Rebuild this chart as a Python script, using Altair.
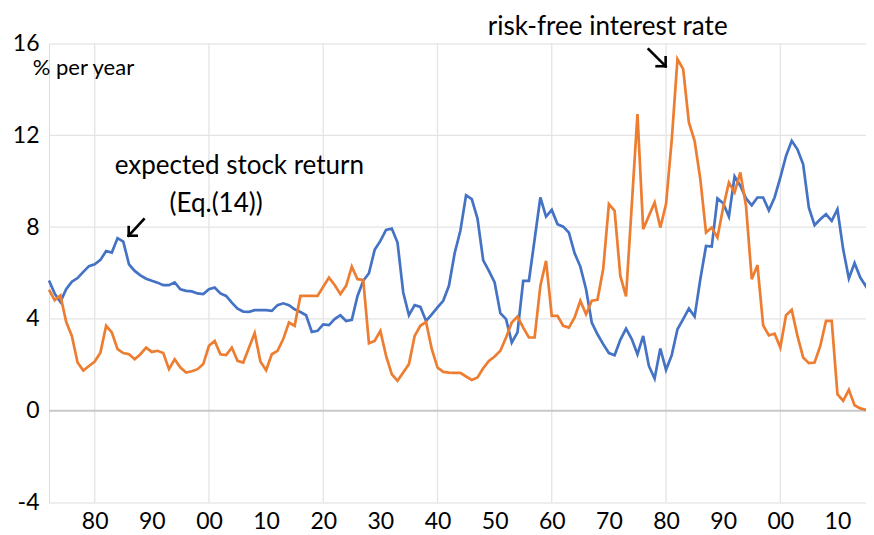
import altair as alt
import pandas as pd

years = list(range(1872, 2017))

expected_return = [
    5.67, 5.10, 4.74, 5.29, 5.62, 5.78, 6.05, 6.30,               # 1872-1879
    6.38, 6.57, 6.96, 6.89, 7.52, 7.37, 6.38, 6.09, 5.90, 5.75,   # 1880s
    5.66, 5.58, 5.47, 5.47, 5.59, 5.29, 5.22, 5.20, 5.11, 5.08,   # 1890s
    5.29, 5.37, 5.11, 5.00, 4.71, 4.45, 4.32, 4.31, 4.38, 4.38,   # 1900s
    4.38, 4.35, 4.60, 4.68, 4.60, 4.42, 4.30, 4.16, 3.43, 3.48,   # 1910s
    3.76, 3.73, 3.99, 4.16, 3.91, 3.96, 5.00, 5.66, 5.99, 7.01,   # 1920s
    7.40, 7.88, 7.94, 7.33, 5.15, 4.16, 4.60, 4.52, 3.91, 4.20,   # 1930s
    4.50, 4.79, 5.44, 6.86, 7.84, 9.39, 9.22, 8.37, 6.55, 6.09,   # 1940s
    5.59, 4.25, 3.99, 2.97, 3.41, 5.66, 5.66, 7.47, 9.29, 8.46,   # 1950s
    8.75, 8.13, 8.02, 7.76, 6.86, 6.28, 5.29, 3.84, 3.33, 2.90,   # 1960s
    2.51, 2.42, 3.09, 3.58, 3.12, 2.46, 3.26, 1.95, 1.40, 2.71,   # 1970s
    1.78, 2.42, 3.55, 3.99, 4.45, 4.10, 5.73, 7.18, 7.15, 9.25,   # 1980s
    9.04, 8.46, 10.21, 9.80, 9.25, 8.95, 9.29, 9.29, 8.73, 9.29,  # 1990s
    10.16, 11.10, 11.76, 11.39, 10.74, 8.85, 8.08, 8.34, 8.56, 8.27,  # 2000s
    8.78, 7.04, 5.76, 6.43, 5.80, 5.41, 6.24,                     # 2010-2016
]

risk_free = [
    5.27, 4.82, 5.02, 3.87, 3.26, 2.10, 1.75, 1.95,               # 1872-1879
    2.14, 2.53, 3.70, 3.41, 2.68, 2.51, 2.46, 2.24, 2.46, 2.75,   # 1880s
    2.56, 2.61, 2.51, 1.81, 2.24, 1.88, 1.66, 1.72, 1.81, 2.03,   # 1890s
    2.83, 3.04, 2.46, 2.42, 2.75, 2.17, 2.10, 2.74, 3.38, 2.14,   # 1900s
    1.76, 2.46, 2.61, 3.12, 3.84, 3.70, 5.00, 5.00, 5.00, 5.00,   # 1910s
    5.40, 5.80, 5.48, 5.08, 5.44, 6.28, 5.73, 5.70, 2.94, 3.04,   # 1920s
    3.48, 2.39, 1.59, 1.30, 1.66, 2.03, 3.26, 3.70, 3.87, 2.68,   # 1930s
    1.88, 1.69, 1.66, 1.65, 1.65, 1.49, 1.34, 1.45, 1.85, 2.17,   # 1940s
    2.36, 2.61, 3.19, 3.84, 4.10, 3.62, 3.19, 3.19, 5.44, 6.53,   # 1950s
    4.13, 4.13, 3.70, 3.62, 4.06, 4.79, 4.20, 4.79, 4.83, 6.17,   # 1960s
    9.00, 8.71, 5.87, 4.98, 8.95, 12.92, 7.91, 8.49, 9.07, 7.98,  # 1970s
    9.00, 11.80, 15.32, 14.88, 12.56, 11.76, 10.09, 7.76, 7.98, 7.55,  # 1980s
    8.85, 9.94, 9.51, 10.38, 8.92, 5.73, 6.34, 3.72, 3.28, 3.36,  # 1990s
    2.75, 4.16, 4.39, 3.26, 2.32, 2.07, 2.10, 2.82, 3.91, 3.91,   # 2000s
    0.72, 0.43, 0.91, 0.24, 0.10, 0.03, -0.12,                    # 2010-2016
]

series_names = ["expected stock return", "risk-free interest rate"]
series_colors = ["#4472C4", "#ED7D31"]

x_tick_values = list(range(1880, 2011, 10))
y_tick_values = [-4, 0, 4, 8, 12, 16]
v_grid_years = [1880, 1900, 1920, 1940, 1960, 1980, 2000]
h_grid_values = [4, 8, 12]

ann_text = ["% per year", "expected stock return", "(Eq.(14))", "risk-free interest rate"]
ann_year = [1869.15, 1883.5, 1893.1, 1948.8]
ann_value = [14.92, 10.65, 9.0, 16.72]
ann_size = [22, 26, 26, 26]

# arrow segments (annotation shapes), in data units: shaft + two head arms
seg_x1 = [1888.58, 1885.95, 1885.95, 1976.95, 1979.93, 1979.93]
seg_y1 = [8.34, 7.625, 7.625, 15.75, 15.01, 15.01]
seg_x2 = [1885.95, 1885.95, 1887.35, 1979.93, 1979.93, 1978.35]
seg_y2 = [7.625, 8.00, 7.625, 15.01, 15.40, 15.01]

df = pd.DataFrame({
    "year": years * 2,
    "value": expected_return + risk_free,
    "series": [series_names[0]] * len(years) + [series_names[1]] * len(years),
})

FONT = "Lato"
PLOT_W = 817
PLOT_H = 459
xscale = alt.Scale(domain=[1872, 2015.0], nice=False, zero=False)
yscale = alt.Scale(domain=[-4, 16], nice=False)

base_x = alt.X("year:Q", scale=xscale, axis=alt.Axis(
    values=x_tick_values, labelExpr="substring(toString(datum.value), 2)",
    grid=False, domain=False, ticks=False, title=None,
    labelFont=FONT, labelFontSize=23, labelColor="#000000", labelPadding=8,
    labelFlush=False, labelOverlap=False))
base_y = alt.Y("value:Q", scale=yscale, axis=alt.Axis(
    values=y_tick_values, labelExpr="toString(datum.value)",
    grid=False, domain=False, ticks=False, title=None,
    labelFont=FONT, labelFontSize=23, labelColor="#000000", labelPadding=10,
    labelFlush=False, labelOverlap=False))

vgrid = alt.Chart(pd.DataFrame({"year": v_grid_years})).mark_rule(
    color="#e4e4e4", strokeWidth=1.3).encode(
    x=alt.X("year:Q", scale=xscale), y=alt.value(0), y2=alt.value(PLOT_H))

hgrid = alt.Chart(pd.DataFrame({"value": h_grid_values})).mark_rule(
    color="#e4e4e4", strokeWidth=1.3).encode(
    y=alt.Y("value:Q", scale=yscale), x=alt.value(0), x2=alt.value(PLOT_W + 20))

zero = alt.Chart(pd.DataFrame({"value": [0]})).mark_rule(
    color="#c9c9c9", strokeWidth=2).encode(
    y=alt.Y("value:Q", scale=yscale), x=alt.value(0), x2=alt.value(PLOT_W + 20))

lines = alt.Chart(df).mark_line(strokeWidth=2.7, clip=False).encode(
    x=base_x, y=base_y,
    color=alt.Color("series:N", scale=alt.Scale(domain=series_names, range=series_colors), legend=None),
    order=alt.Order("year:Q"),
)

ann_df = pd.DataFrame({"text": ann_text, "year": ann_year, "value": ann_value, "size": ann_size})
ann = alt.Chart(ann_df).mark_text(align="left", baseline="middle", font=FONT, color="#000000").encode(
    x=alt.X("year:Q", scale=xscale), y=alt.Y("value:Q", scale=yscale),
    text="text:N", size=alt.Size("size:Q", scale=None, legend=None))

arr_df = pd.DataFrame({"x1": seg_x1, "y1": seg_y1, "x2": seg_x2, "y2": seg_y2})
arrows = alt.Chart(arr_df).mark_rule(color="#000000", strokeWidth=2.6, strokeCap="square").encode(
    x=alt.X("x1:Q", scale=xscale), y=alt.Y("y1:Q", scale=yscale),
    x2="x2:Q", y2="y2:Q")

chart = alt.layer(vgrid, hgrid, zero, lines, ann, arrows).properties(
    width=PLOT_W, height=PLOT_H,
    autosize=alt.AutoSizeParams(type="none"),
    padding={"left": 41, "top": 35.5, "right": 0, "bottom": 32},
).configure_view(stroke=None).configure(background="#ffffff")

chart.save("out.html", embed_options={"renderer": "svg", "actions": False})
